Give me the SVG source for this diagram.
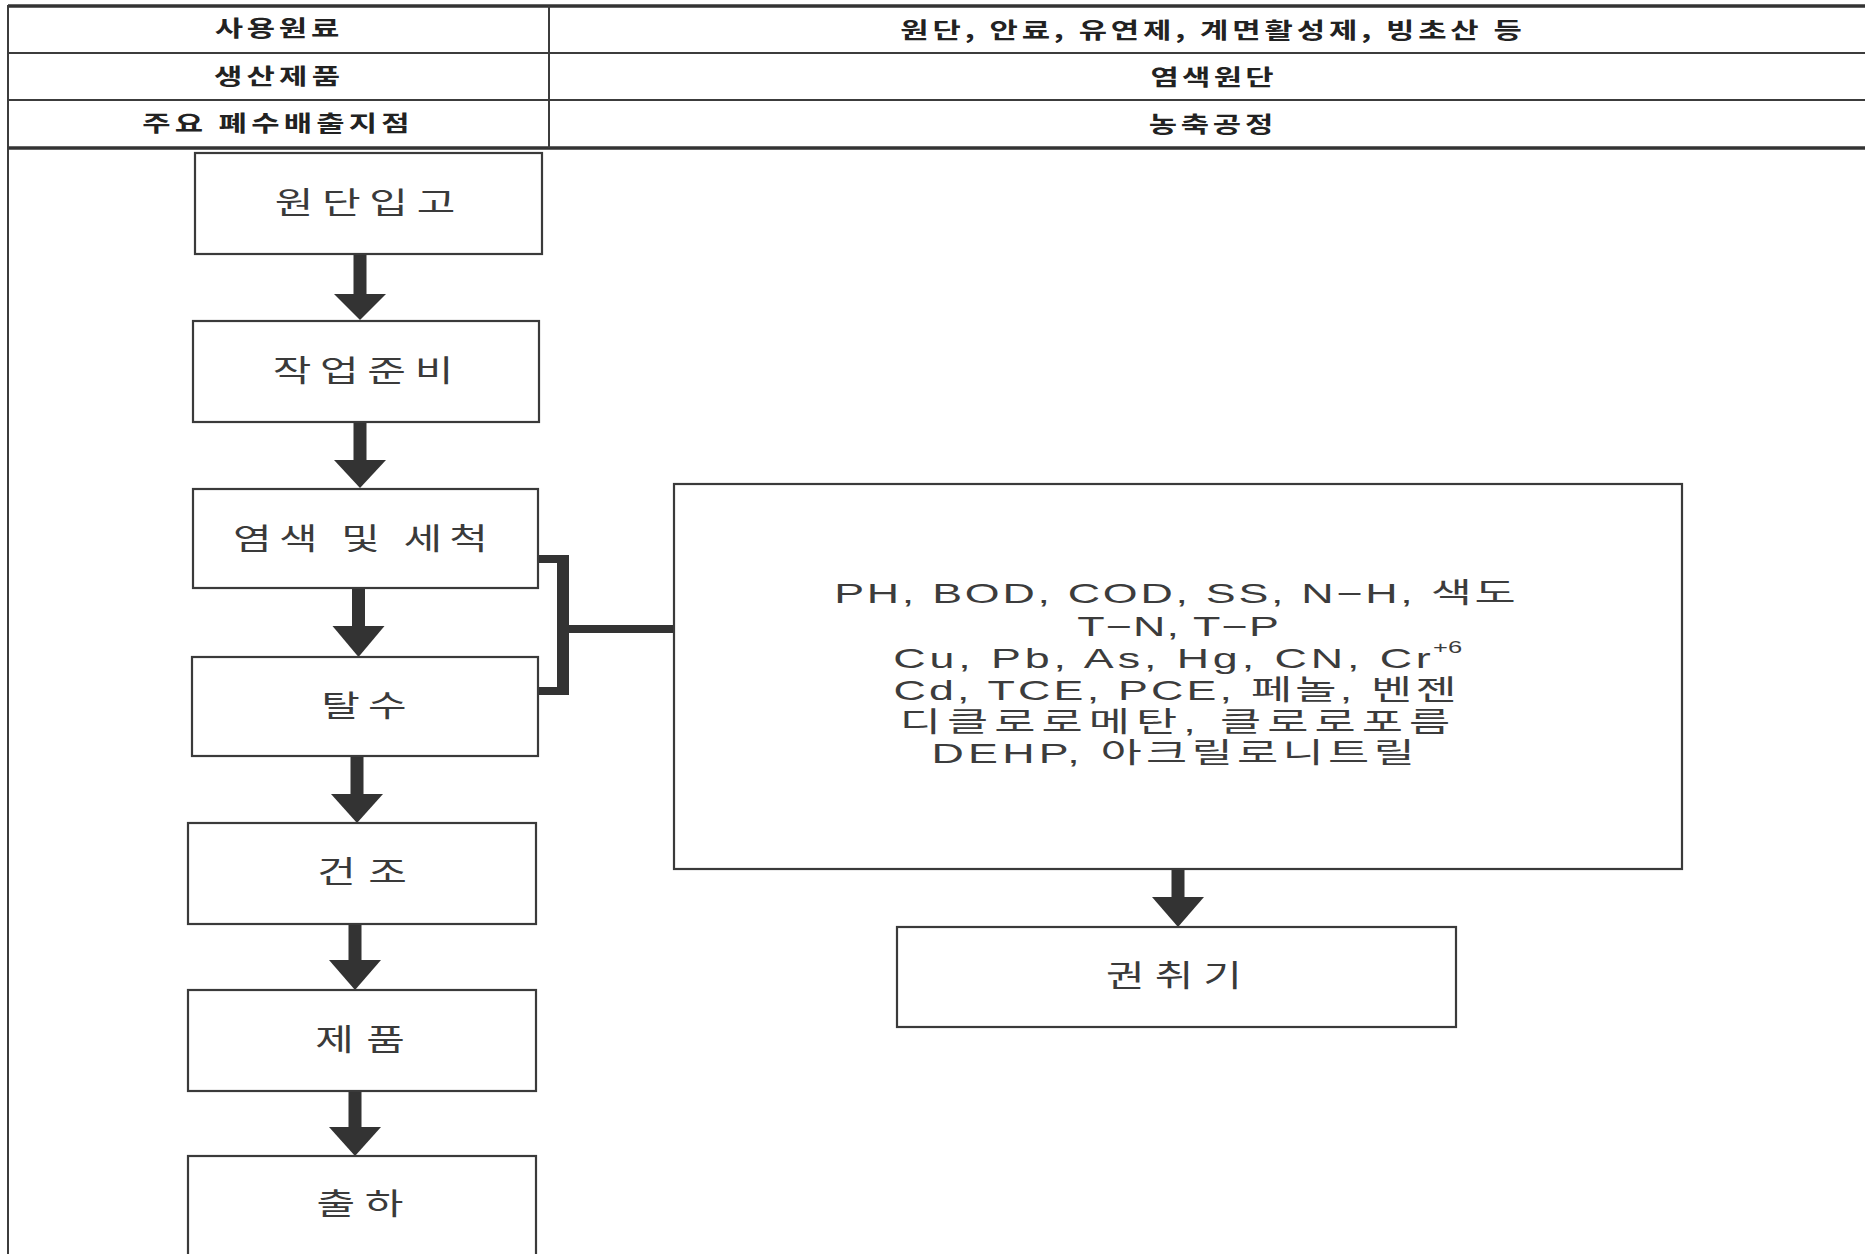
<svg xmlns="http://www.w3.org/2000/svg" width="1865" height="1254" viewBox="0 0 1865 1254">
<style>
.tl{stroke:#3c3c3c;stroke-width:2;fill:none}
.tb{stroke:#333;stroke-width:3.5;fill:none}
.bx{fill:#fff;stroke:#3a3a3a;stroke-width:2.2}
.tt{font-family:"Noto Sans CJK KR","Liberation Sans",sans-serif;font-size:22px;font-weight:700;fill:#222;text-anchor:middle}
.ft{font-family:"Noto Sans CJK KR","Liberation Sans",sans-serif;font-size:30px;fill:#3a3a3a;text-anchor:middle}
.bt{font-family:"Liberation Sans","Noto Sans CJK KR",sans-serif;font-size:28px;fill:#3c3c3c;text-anchor:middle}
.ar{fill:#333}
</style>
<rect width="1865" height="1254" fill="#fff"/>
<g id="table">
<line class="tb" x1="8" y1="6" x2="1865" y2="6"/>
<line class="tl" x1="8" y1="53" x2="1865" y2="53"/>
<line class="tl" x1="8" y1="100" x2="1865" y2="100"/>
<line class="tb" x1="8" y1="148" x2="1865" y2="148"/>
<line class="tl" x1="8" y1="5" x2="8" y2="1254"/>
<line class="tl" x1="549" y1="6" x2="549" y2="148"/>
<text class="tt" transform="translate(277,36) scale(1.4,1)" textLength="89" lengthAdjust="spacing">사용원료</text>
<text class="tt" transform="translate(277,84) scale(1.4,1)" textLength="90" lengthAdjust="spacing">생산제품</text>
<text class="tt" transform="translate(276,131) scale(1.4,1)" textLength="191" lengthAdjust="spacing">주요 폐수배출지점</text>
<text class="tt" transform="translate(1211,38) scale(1.4,1)" textLength="444" lengthAdjust="spacing">원단, 안료, 유연제, 계면활성제, 빙초산 등</text>
<text class="tt" transform="translate(1212,85) scale(1.4,1)" textLength="88" lengthAdjust="spacing">염색원단</text>
<text class="tt" transform="translate(1211,132) scale(1.4,1)" textLength="89" lengthAdjust="spacing">농축공정</text>
</g>
<g id="connectors">
<g class="ar">
<rect x="353.5" y="253" width="13" height="42"/><path d="M334,294 H386 L360,320 Z"/>
<rect x="353.5" y="422" width="13" height="40"/><path d="M334,460 H386 L360,488 Z"/>
<rect x="352" y="588" width="13" height="40"/><path d="M332.5,626 H384.5 L358.5,657 Z"/>
<rect x="350.5" y="756" width="13" height="40"/><path d="M331,794 H383 L357,823 Z"/>
<rect x="348.5" y="923" width="13" height="40"/><path d="M329,960 H381 L355,990 Z"/>
<rect x="348.5" y="1091" width="13" height="38"/><path d="M329,1127 H381 L355,1156 Z"/>
<rect x="1171.5" y="869" width="13" height="30"/><path d="M1152,897 H1204 L1178,927 Z"/>
<rect x="536" y="555" width="33" height="8"/>
<rect x="557" y="555" width="12" height="140"/>
<rect x="533" y="687" width="36" height="8"/>
<rect x="567" y="625" width="107" height="8"/>
</g>
</g>
<g id="n1"><rect class="bx" x="195" y="153" width="347" height="101"/>
<text class="ft" transform="translate(365,213) scale(1.4,1)" textLength="129" lengthAdjust="spacing">원단입고</text></g>
<g id="n2"><rect class="bx" x="193" y="321" width="346" height="101"/>
<text class="ft" transform="translate(363,381) scale(1.4,1)" textLength="129" lengthAdjust="spacing">작업준비</text></g>
<g id="n3"><rect class="bx" x="193" y="489" width="345" height="99"/>
<text class="ft" transform="translate(360.5,548.5) scale(1.4,1)" textLength="182" lengthAdjust="spacing">염색 및 세척</text></g>
<g id="n4"><rect class="bx" x="192" y="657" width="346" height="99"/>
<text class="ft" transform="translate(364,716) scale(1.4,1)" textLength="61" lengthAdjust="spacing">탈수</text></g>
<g id="n5"><rect class="bx" x="188" y="823" width="348" height="101"/>
<text class="ft" transform="translate(362,881.5) scale(1.4,1)" textLength="64" lengthAdjust="spacing">건조</text></g>
<g id="n6"><rect class="bx" x="188" y="990" width="348" height="101"/>
<text class="ft" transform="translate(360,1050) scale(1.4,1)" textLength="64" lengthAdjust="spacing">제품</text></g>
<g id="n7"><rect class="bx" x="188" y="1156" width="348" height="110"/>
<text class="ft" transform="translate(360,1214) scale(1.4,1)" textLength="62" lengthAdjust="spacing">출하</text></g>
<g id="pollutants"><rect class="bx" x="674" y="484" width="1008" height="385"/>
<text class="bt" transform="translate(1175,603) scale(1.6,1)" textLength="426" lengthAdjust="spacing">PH, BOD, COD, SS, N−H, 색도</text>
<text class="bt" transform="translate(1178,636) scale(1.6,1)" textLength="126" lengthAdjust="spacing">T−N, T−P</text>
<text class="bt" transform="translate(1162,668) scale(1.6,1)" textLength="336" lengthAdjust="spacing">Cu, Pb, As, Hg, CN, Cr</text>
<text class="bt" style="font-size:17px;text-anchor:start" transform="translate(1433,653) scale(1.5,1)">+6</text>
<text class="bt" transform="translate(1175,700) scale(1.6,1)" textLength="352" lengthAdjust="spacing">Cd, TCE, PCE, 페놀, 벤젠</text>
<text class="bt" transform="translate(1175,732) scale(1.6,1)" textLength="344" lengthAdjust="spacing">디클로로메탄, 클로로포름</text>
<text class="bt" transform="translate(1173,763) scale(1.6,1)" textLength="302" lengthAdjust="spacing">DEHP, 아크릴로니트릴</text>
</g>
<g id="winder"><rect class="bx" x="897" y="927" width="559" height="100"/>
<text class="ft" transform="translate(1174,986) scale(1.4,1)" textLength="97" lengthAdjust="spacing">권취기</text></g>
</svg>
